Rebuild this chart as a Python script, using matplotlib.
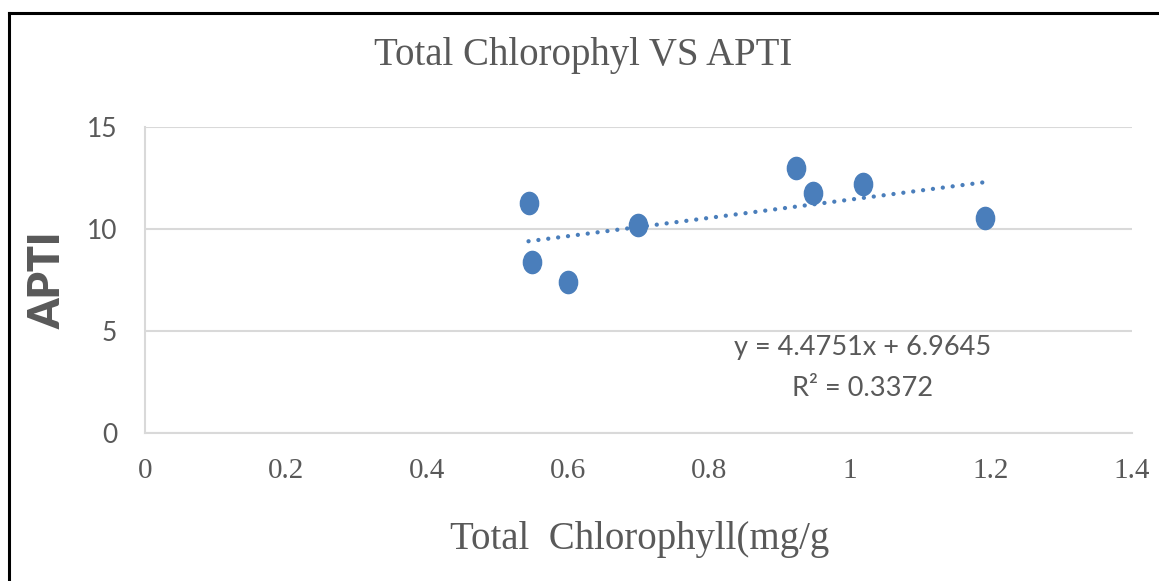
# %%
import matplotlib
matplotlib.use('Agg')
import matplotlib.pyplot as plt
from matplotlib.lines import Line2D
from matplotlib.path import Path
from matplotlib.transforms import Affine2D
import numpy as np


# %% データ
chlorophyll = [0.544, 0.549, 0.600, 0.699, 0.924, 0.947, 1.018, 1.192]
apti = [11.26, 8.40, 7.39, 10.20, 12.97, 11.75, 12.19, 10.55]

# 近似直線 (ラベルの係数)
slope, intercept = 4.4751, 6.9645
r2 = 0.3372

x_ticks = [0, 0.2, 0.4, 0.6, 0.8, 1, 1.2, 1.4]
x_tick_labels = ['0', '0.2', '0.4', '0.6', '0.8', '1', '1.2', '1.4']
y_ticks = [0, 5, 10, 15]


# %% 可視化
blue = '#4a7ebb'
grey = '#595959'
serif = ['Liberation Serif', 'DejaVu Serif']
sans = ['Lato', 'DejaVu Sans']

fig = plt.figure(figsize=(11.59, 5.81), dpi=100)
ax = fig.add_axes([145 / 1159, 1 - 433 / 581, 987 / 1159, 306 / 581])

# 楕円マーカー
ellipse = Path.unit_circle().transformed(Affine2D().scale(0.82, 1.0))
ax.plot(chlorophyll, apti, linestyle='none', marker=ellipse,
        markersize=16, color=blue, zorder=3)

# 近似直線
xs = np.array([min(chlorophyll), max(chlorophyll)])
ax.plot(xs, slope * xs + intercept, color=blue, linewidth=3.1,
        linestyle=(0, (0.01, 2.3)), dash_capstyle='round', zorder=2)

ax.set_xlim(0, 1.4)
ax.set_ylim(0, 15)
ax.set_xticks(x_ticks)
ax.set_xticklabels(x_tick_labels, fontfamily=serif, fontsize=21, color=grey)
ax.set_yticks(y_ticks)
ax.set_yticklabels([str(v) for v in y_ticks], fontfamily=sans, fontsize=19,
                   color=grey)
ax.tick_params(axis='x', length=0, pad=18)
ax.tick_params(axis='y', length=0, pad=20)

ax.grid(axis='y', color='#d9d9d9', linewidth=1.5)
ax.set_axisbelow(True)
for side in ['top', 'right']:
    ax.spines[side].set_visible(False)
for side in ['left', 'bottom']:
    ax.spines[side].set_color('#d9d9d9')
    ax.spines[side].set_linewidth(1.5)

# 数式ラベル
ax.text(0.7275, 0.278, f'y = {slope}x + {intercept}', transform=ax.transAxes,
        ha='center', va='center', fontfamily=sans, fontsize=19.5, color=grey)
ax.text(0.7275, 0.147, f'R² = {r2}', transform=ax.transAxes,
        ha='center', va='center', fontfamily=sans, fontsize=19.5, color=grey)

# タイトル・軸ラベル
fig.text(583 / 1159, 1 - 55 / 581, 'Total Chlorophyl VS APTI', ha='center',
         va='center', fontfamily=serif, fontsize=28, color=grey)
fig.text(640 / 1159, 1 - 540 / 581, 'Total  Chlorophyll(mg/g', ha='center',
         va='center', fontfamily=serif, fontsize=28, color=grey)
fig.text(48 / 1159, 1 - 280 / 581, 'APTI', ha='center', va='center',
         rotation=90, fontfamily=sans, fontweight='heavy', fontsize=31,
         color=grey)

# 枠線 (左と上)
fig.add_artist(Line2D([9 / 1159, 9 / 1159], [0, 1 - 13 / 581],
                      color='black', linewidth=2.2, solid_capstyle='projecting'))
fig.add_artist(Line2D([9 / 1159, 1], [1 - 13 / 581, 1 - 13 / 581],
                      color='black', linewidth=2.2, solid_capstyle='projecting'))

fig.savefig('out.png', dpi=100)
